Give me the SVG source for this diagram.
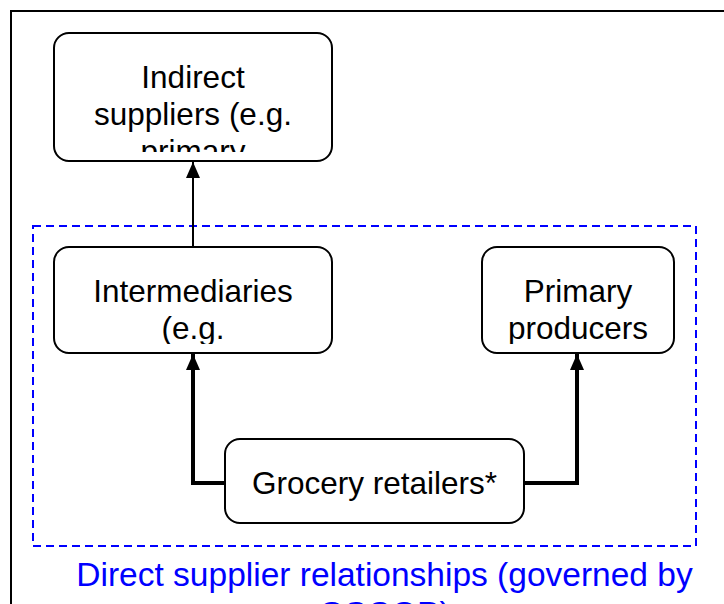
<svg xmlns="http://www.w3.org/2000/svg" width="724" height="604" viewBox="0 0 724 604">
<style>
.box{fill:#fff;stroke:#000;stroke-width:2}
.t{font-family:"Liberation Sans",Arial,sans-serif;font-size:31.5px;fill:#000;text-anchor:middle}
.cap{font-size:33.5px;fill:#0000ff}
.thin{fill:none;stroke:#000;stroke-width:2}
.thick{fill:none;stroke:#000;stroke-width:4}
</style>
<defs>
<marker id="ahb" viewBox="0 0 14 16" refX="7" refY="0" markerWidth="14" markerHeight="16" markerUnits="userSpaceOnUse">
<path d="M0,16 L7,0 L14,16 Z" fill="#000"/>
</marker>
<clipPath id="c1"><rect x="54" y="33" width="278" height="119"/></clipPath>
<clipPath id="c2"><rect x="54" y="247" width="278" height="97"/></clipPath>
<clipPath id="c3"><rect x="482" y="247" width="192" height="97"/></clipPath>
</defs>
<rect x="11" y="11" width="740" height="640" fill="none" stroke="#000" stroke-width="2"/>
<rect id="boundary" x="33" y="226" width="663" height="320" fill="none" stroke="#0000ff" stroke-width="2" stroke-dasharray="8,5"/>
<g id="connectors">
<path class="thin" d="M193,247 V162" marker-end="url(#ahb)"/>
<path class="thick" d="M225,483 H193 V354" marker-end="url(#ahb)"/>
<path class="thick" d="M524,483 H577 V354" marker-end="url(#ahb)"/>
</g>
<g id="indirect">
<rect class="box" x="54" y="33" width="278" height="128" rx="15"/>
<text class="t" clip-path="url(#c1)"><tspan x="193" y="88">Indirect</tspan><tspan x="193" y="125">suppliers (e.g.</tspan><tspan x="193" y="162">primary</tspan></text>
</g>
<g id="intermediaries">
<rect class="box" x="54" y="247" width="278" height="106" rx="15"/>
<text class="t" clip-path="url(#c2)"><tspan x="193" y="302">Intermediaries</tspan><tspan x="193" y="339">(e.g.</tspan></text>
</g>
<g id="primary">
<rect class="box" x="482" y="247" width="192" height="106" rx="15"/>
<text class="t" clip-path="url(#c3)"><tspan x="578" y="302">Primary</tspan><tspan x="578" y="339">producers</tspan></text>
</g>
<g id="retailers">
<rect class="box" x="225" y="439" width="299" height="84" rx="15"/>
<text class="t" x="374.5" y="494">Grocery retailers*</text>
</g>
<g id="caption">
<text class="t cap"><tspan x="384.5" y="586">Direct supplier relationships (governed by</tspan><tspan x="384.5" y="625">GSCOP)</tspan></text>
</g>
</svg>
